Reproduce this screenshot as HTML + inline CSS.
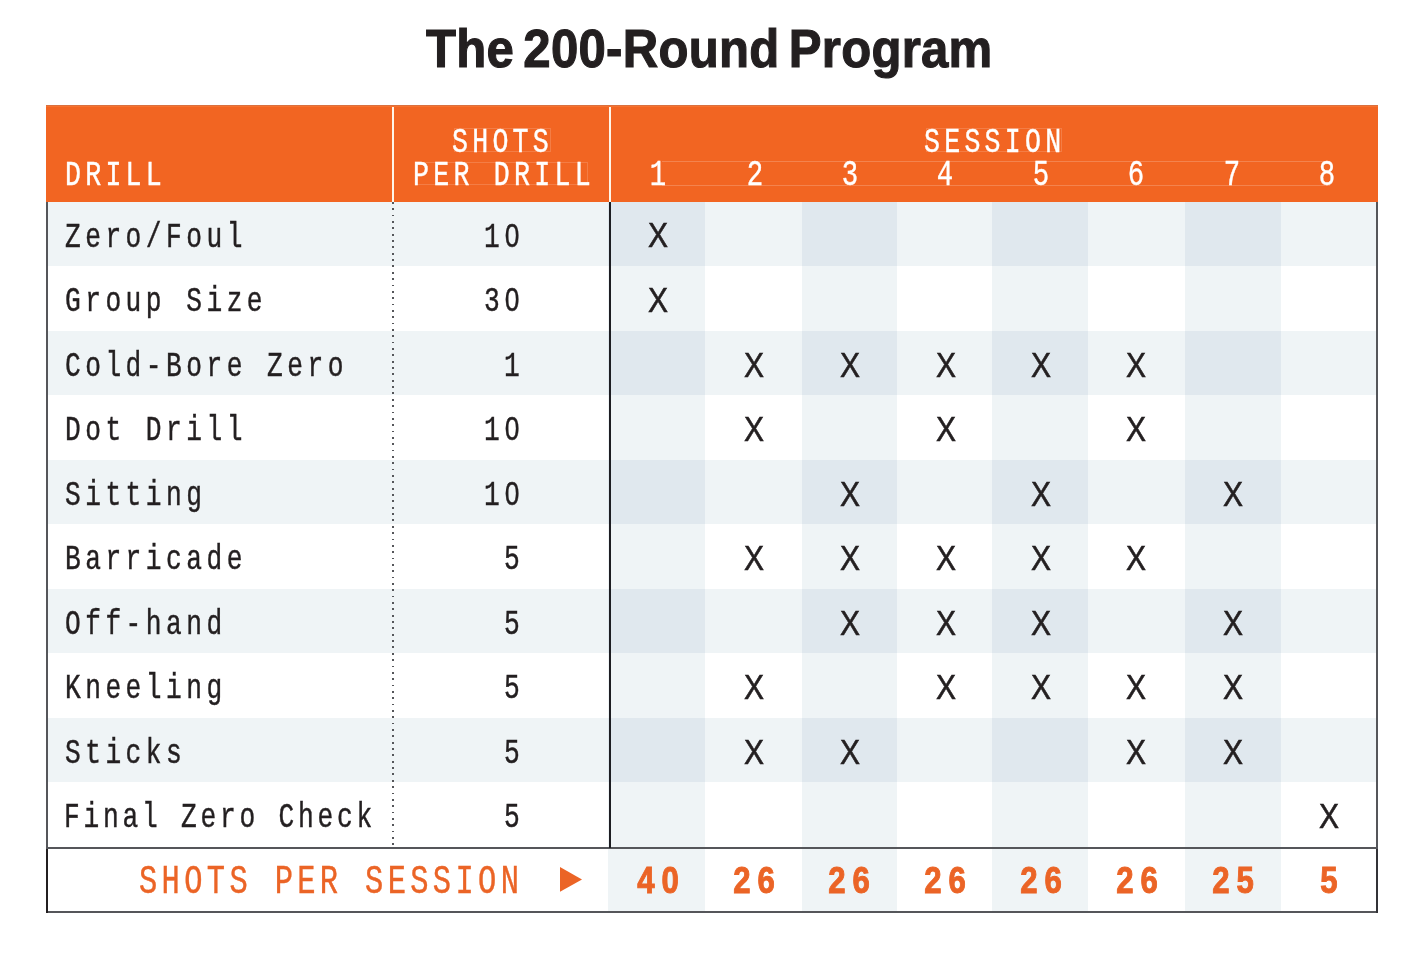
<!DOCTYPE html>
<html lang="en"><head><meta charset="utf-8"><title>The 200-Round Program</title>
<style>
html,body{margin:0;padding:0;background:#fff}
#pg{position:relative;width:1413px;height:959px;overflow:hidden;background:#fff;color:#231F20}
#pg div,#pg h1,#pg span{position:absolute;margin:0;padding:0;white-space:pre}
.title{left:426px;top:16.6px;font:bold 53px/64px "Liberation Sans",sans-serif;letter-spacing:.27px;word-spacing:-5px;transform-origin:0 0;transform:scaleX(.927);color:#231F20;-webkit-text-stroke:1.1px #231F20}
.hdr{left:46px;top:105px;width:1331.5px;height:97px;background:#F26522}
.rs{left:48px;width:1327.5px;height:64.5px;background:#EFF4F6}
.m{font-family:"Liberation Mono",monospace;font-size:34.5px;line-height:40px;letter-spacing:5.88px;transform-origin:0 0;transform:scaleX(.76);-webkit-text-stroke:.45px currentColor}
.h{font-size:35px;letter-spacing:5.58px}
.w{color:#fff}
.x{font-family:"Liberation Sans",sans-serif;font-size:34.5px;line-height:40px;width:60px;margin-left:-30px!important;text-align:center;transform:scaleX(.87);-webkit-text-stroke:.6px currentColor}
.n{font-family:"Liberation Mono",monospace;font-size:36px;line-height:40px;width:60px;margin-left:-30px!important;text-align:center;transform:scaleX(.76);color:#fff;-webkit-text-stroke:.4px #fff}
.t{font-family:"Liberation Sans",sans-serif;font-weight:bold;font-size:37.5px;line-height:44px;letter-spacing:8.2px;width:140px;margin-left:-70px!important;text-indent:8.2px;text-align:center;transform:scaleX(.83);color:#EB6426;-webkit-text-stroke:1px #EB6426}
.f{font-family:"Liberation Mono",monospace;font-size:40px;line-height:46px;letter-spacing:5.74px;transform-origin:0 0;transform:scaleX(.76);color:#EB6426;-webkit-text-stroke:.45px #EB6426}
.vl{background:#55565A}
</style></head>
<body>
<div id="pg">
<h1 class="title">The 200-Round Program</h1>
<div class="rs" style="top:202.0px;height:64.1px"></div>
<div class="rs" style="top:331.4px;height:63.7px"></div>
<div class="rs" style="top:460.4px;height:63.7px"></div>
<div class="rs" style="top:589.4px;height:63.7px"></div>
<div class="rs" style="top:718.4px;height:63.7px"></div>
<div style="left:608.4px;top:202.0px;width:96.3px;height:64.1px;background:#E0E8EE"></div>
<div style="left:608.4px;top:266.1px;width:96.3px;height:65.3px;background:#EFF4F6"></div>
<div style="left:608.4px;top:331.4px;width:96.3px;height:63.7px;background:#E0E8EE"></div>
<div style="left:608.4px;top:395.1px;width:96.3px;height:65.3px;background:#EFF4F6"></div>
<div style="left:608.4px;top:460.4px;width:96.3px;height:63.7px;background:#E0E8EE"></div>
<div style="left:608.4px;top:524.1px;width:96.3px;height:65.3px;background:#EFF4F6"></div>
<div style="left:608.4px;top:589.4px;width:96.3px;height:63.7px;background:#E0E8EE"></div>
<div style="left:608.4px;top:653.1px;width:96.3px;height:65.3px;background:#EFF4F6"></div>
<div style="left:608.4px;top:718.4px;width:96.3px;height:63.7px;background:#E0E8EE"></div>
<div style="left:608.4px;top:782.1px;width:96.3px;height:64.9px;background:#EFF4F6"></div>
<div style="left:608.4px;top:849px;width:96.3px;height:62px;background:#EFF4F6"></div>
<div style="left:801.6px;top:202.0px;width:95.6px;height:64.1px;background:#E0E8EE"></div>
<div style="left:801.6px;top:266.1px;width:95.6px;height:65.3px;background:#EFF4F6"></div>
<div style="left:801.6px;top:331.4px;width:95.6px;height:63.7px;background:#E0E8EE"></div>
<div style="left:801.6px;top:395.1px;width:95.6px;height:65.3px;background:#EFF4F6"></div>
<div style="left:801.6px;top:460.4px;width:95.6px;height:63.7px;background:#E0E8EE"></div>
<div style="left:801.6px;top:524.1px;width:95.6px;height:65.3px;background:#EFF4F6"></div>
<div style="left:801.6px;top:589.4px;width:95.6px;height:63.7px;background:#E0E8EE"></div>
<div style="left:801.6px;top:653.1px;width:95.6px;height:65.3px;background:#EFF4F6"></div>
<div style="left:801.6px;top:718.4px;width:95.6px;height:63.7px;background:#E0E8EE"></div>
<div style="left:801.6px;top:782.1px;width:95.6px;height:64.9px;background:#EFF4F6"></div>
<div style="left:801.6px;top:849px;width:95.6px;height:62px;background:#EFF4F6"></div>
<div style="left:992.0px;top:202.0px;width:95.6px;height:64.1px;background:#E0E8EE"></div>
<div style="left:992.0px;top:266.1px;width:95.6px;height:65.3px;background:#EFF4F6"></div>
<div style="left:992.0px;top:331.4px;width:95.6px;height:63.7px;background:#E0E8EE"></div>
<div style="left:992.0px;top:395.1px;width:95.6px;height:65.3px;background:#EFF4F6"></div>
<div style="left:992.0px;top:460.4px;width:95.6px;height:63.7px;background:#E0E8EE"></div>
<div style="left:992.0px;top:524.1px;width:95.6px;height:65.3px;background:#EFF4F6"></div>
<div style="left:992.0px;top:589.4px;width:95.6px;height:63.7px;background:#E0E8EE"></div>
<div style="left:992.0px;top:653.1px;width:95.6px;height:65.3px;background:#EFF4F6"></div>
<div style="left:992.0px;top:718.4px;width:95.6px;height:63.7px;background:#E0E8EE"></div>
<div style="left:992.0px;top:782.1px;width:95.6px;height:64.9px;background:#EFF4F6"></div>
<div style="left:992.0px;top:849px;width:95.6px;height:62px;background:#EFF4F6"></div>
<div style="left:1185.2px;top:202.0px;width:95.7px;height:64.1px;background:#E0E8EE"></div>
<div style="left:1185.2px;top:266.1px;width:95.7px;height:65.3px;background:#EFF4F6"></div>
<div style="left:1185.2px;top:331.4px;width:95.7px;height:63.7px;background:#E0E8EE"></div>
<div style="left:1185.2px;top:395.1px;width:95.7px;height:65.3px;background:#EFF4F6"></div>
<div style="left:1185.2px;top:460.4px;width:95.7px;height:63.7px;background:#E0E8EE"></div>
<div style="left:1185.2px;top:524.1px;width:95.7px;height:65.3px;background:#EFF4F6"></div>
<div style="left:1185.2px;top:589.4px;width:95.7px;height:63.7px;background:#E0E8EE"></div>
<div style="left:1185.2px;top:653.1px;width:95.7px;height:65.3px;background:#EFF4F6"></div>
<div style="left:1185.2px;top:718.4px;width:95.7px;height:63.7px;background:#E0E8EE"></div>
<div style="left:1185.2px;top:782.1px;width:95.7px;height:64.9px;background:#EFF4F6"></div>
<div style="left:1185.2px;top:849px;width:95.7px;height:62px;background:#EFF4F6"></div>
<div class="hdr"></div>
<div style="left:46px;top:105px;width:1331.5px;height:1.3px;background:#D9703F"></div>
<div style="left:46px;top:106.3px;width:1331.5px;height:1.1px;background:#F7722E"></div>
<div style="left:391.8px;top:107px;width:2.2px;height:95px;background:#FFF5E8"></div>
<div style="left:608.5px;top:107px;width:2.4px;height:95px;background:#FFF5E8"></div>
<div class="m h w" style="left:65px;top:155.9px">DRILL</div>
<div class="m h w" style="left:452px;top:122.9px">SHOTS</div>
<div class="m h w" style="left:413px;top:155.9px">PER DRILL</div>
<div class="m h w" style="left:924px;top:122.9px">SESSION</div>
<div style="left:662px;top:161px;width:668px;height:1px;background:rgba(255,255,255,.2)"></div>
<div style="left:662px;top:185px;width:668px;height:1px;background:rgba(255,255,255,.2)"></div>
<div style="left:453.8px;top:128.2px;width:97.7px;height:24.0px;box-sizing:border-box;border:1px solid rgba(255,255,255,.16)"></div>
<div style="left:416.9px;top:162.0px;width:171.0px;height:23.4px;box-sizing:border-box;border:1px solid rgba(255,255,255,.16)"></div>
<div style="left:926.0px;top:128.3px;width:135.5px;height:24.0px;box-sizing:border-box;border:1px solid rgba(255,255,255,.16)"></div>
<div class="n" style="left:658.4px;top:155.5px">1</div>
<div class="n" style="left:755.2px;top:155.5px">2</div>
<div class="n" style="left:850.3px;top:155.5px">3</div>
<div class="n" style="left:945.0px;top:155.5px">4</div>
<div class="n" style="left:1041.2px;top:155.5px">5</div>
<div class="n" style="left:1136.0px;top:155.5px">6</div>
<div class="n" style="left:1232.2px;top:155.5px">7</div>
<div class="n" style="left:1327.2px;top:155.5px">8</div>
<div class="vl" style="left:46px;top:202px;width:2px;height:711px"></div>
<div class="vl" style="left:1375.5px;top:202px;width:2px;height:711px"></div>
<div class="vl" style="left:46px;top:847px;width:1331.5px;height:2px"></div>
<div class="vl" style="left:46px;top:911px;width:1331.5px;height:2px"></div>
<div style="left:608.5px;top:202px;width:2.4px;height:646px;background:#1D1D22"></div>
<div style="left:46px;top:849px;width:2px;height:64px;background:#231F20"></div>
<div style="left:1375.5px;top:849px;width:2.2px;height:64px;background:#333337"></div>
<div style="left:392.2px;top:202px;width:1.8px;height:645px;background:repeating-linear-gradient(to bottom,#55565a 0,#55565a 1.8px,transparent 1.8px,transparent 6.35px)"></div>
<div class="m" style="left:65.1px;top:217.8px">Zero/Foul</div>
<div class="m" style="left:483.5px;top:217.8px">10</div>
<div style="left:509.4px;top:231.3px;width:5.2px;height:7.4px;background:#EFF4F6"></div>
<div class="x" style="left:657.5px;top:214.9px">X</div>
<div class="m" style="left:65.1px;top:282.3px">Group Size</div>
<div class="m" style="left:483.5px;top:282.3px">30</div>
<div style="left:509.4px;top:295.8px;width:5.2px;height:7.4px;background:#fff"></div>
<div class="x" style="left:657.5px;top:280.0px">X</div>
<div class="m" style="left:65.1px;top:346.8px">Cold-Bore Zero</div>
<div class="m" style="left:503.7px;top:346.8px">1</div>
<div class="x" style="left:753.8px;top:344.9px">X</div>
<div class="x" style="left:849.6px;top:344.9px">X</div>
<div class="x" style="left:945.8px;top:344.9px">X</div>
<div class="x" style="left:1040.9px;top:344.9px">X</div>
<div class="x" style="left:1136.4px;top:344.9px">X</div>
<div class="m" style="left:65.1px;top:411.3px">Dot Drill</div>
<div class="m" style="left:483.5px;top:411.3px">10</div>
<div style="left:509.4px;top:424.8px;width:5.2px;height:7.4px;background:#fff"></div>
<div class="x" style="left:753.8px;top:409.4px">X</div>
<div class="x" style="left:945.8px;top:409.4px">X</div>
<div class="x" style="left:1136.4px;top:409.4px">X</div>
<div class="m" style="left:65.1px;top:475.8px">Sitting</div>
<div class="m" style="left:483.5px;top:475.8px">10</div>
<div style="left:509.4px;top:489.3px;width:5.2px;height:7.4px;background:#EFF4F6"></div>
<div class="x" style="left:849.6px;top:473.9px">X</div>
<div class="x" style="left:1040.9px;top:473.9px">X</div>
<div class="x" style="left:1232.9px;top:473.9px">X</div>
<div class="m" style="left:65.1px;top:540.3px">Barricade</div>
<div class="m" style="left:503.7px;top:540.3px">5</div>
<div class="x" style="left:753.8px;top:538.4px">X</div>
<div class="x" style="left:849.6px;top:538.4px">X</div>
<div class="x" style="left:945.8px;top:538.4px">X</div>
<div class="x" style="left:1040.9px;top:538.4px">X</div>
<div class="x" style="left:1136.4px;top:538.4px">X</div>
<div class="m" style="left:65.1px;top:604.8px">Off-hand</div>
<div class="m" style="left:503.7px;top:604.8px">5</div>
<div class="x" style="left:849.6px;top:602.9px">X</div>
<div class="x" style="left:945.8px;top:602.9px">X</div>
<div class="x" style="left:1040.9px;top:602.9px">X</div>
<div class="x" style="left:1232.9px;top:602.9px">X</div>
<div class="m" style="left:65.1px;top:669.3px">Kneeling</div>
<div class="m" style="left:503.7px;top:669.3px">5</div>
<div class="x" style="left:753.8px;top:667.4px">X</div>
<div class="x" style="left:945.8px;top:667.4px">X</div>
<div class="x" style="left:1040.9px;top:667.4px">X</div>
<div class="x" style="left:1136.4px;top:667.4px">X</div>
<div class="x" style="left:1232.9px;top:667.4px">X</div>
<div class="m" style="left:65.1px;top:733.8px">Sticks</div>
<div class="m" style="left:503.7px;top:733.8px">5</div>
<div class="x" style="left:753.8px;top:731.9px">X</div>
<div class="x" style="left:849.6px;top:731.9px">X</div>
<div class="x" style="left:1136.4px;top:731.9px">X</div>
<div class="x" style="left:1232.9px;top:731.9px">X</div>
<div class="m" style="left:65.1px;top:798.3px;letter-spacing:4.96px;margin-left:-1px">Final Zero Check</div>
<div class="m" style="left:503.7px;top:798.3px">5</div>
<div class="x" style="left:1328.9px;top:796.4px">X</div>
<div class="f" style="left:139.4px;top:859.9px">SHOTS PER SESSION</div>
<svg style="position:absolute;left:559.9px;top:866.9px" width="23" height="25" viewBox="0 0 23 25"><polygon points="0,0 22,12.4 0,24.8" fill="#EB6426"/></svg>
<div class="t" style="left:657.8px;top:857.5px">40</div>
<div class="t" style="left:753.7px;top:857.5px">26</div>
<div class="t" style="left:849.3px;top:857.5px">26</div>
<div class="t" style="left:945.1px;top:857.5px">26</div>
<div class="t" style="left:1041.2px;top:857.5px">26</div>
<div class="t" style="left:1136.6px;top:857.5px">26</div>
<div class="t" style="left:1232.7px;top:857.5px">25</div>
<div class="t" style="left:1328.7px;top:857.5px">5</div>
</div>
</body></html>
